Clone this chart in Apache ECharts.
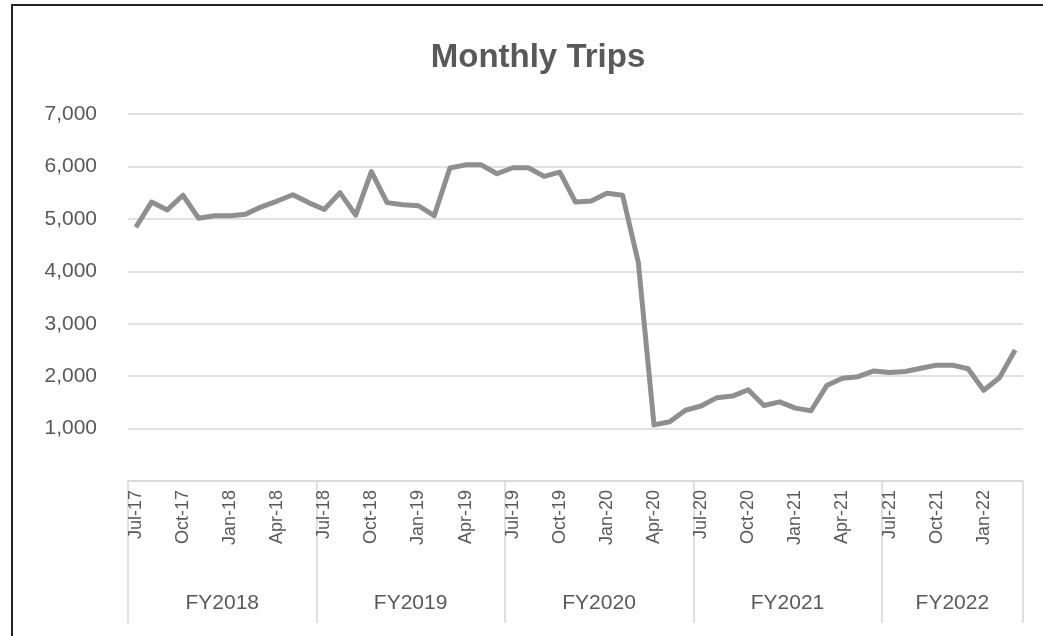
<!DOCTYPE html>
<html lang="en">
<head>
    <meta charset="UTF-8">
    <title>Monthly Trips</title>
    <style>
        html,body{margin:0;padding:0;background:#fff;}
        #chart{width:1043px;height:636px;}
        .frame{position:absolute;left:11px;top:4px;right:0;bottom:0;border-top:2px solid #222;border-left:2px solid #222;pointer-events:none;}
    </style>
</head>
<body>
    <div id="chart"></div>
    <div class="frame"></div>
<script src="https://cdn.jsdelivr.net/npm/echarts@6/dist/echarts.min.js"></script>
<script>
// month categories (Jul-17 .. Mar-22)
var months = [
    'Jul-17','Aug-17','Sep-17','Oct-17','Nov-17','Dec-17','Jan-18','Feb-18','Mar-18','Apr-18','May-18','Jun-18',
    'Jul-18','Aug-18','Sep-18','Oct-18','Nov-18','Dec-18','Jan-19','Feb-19','Mar-19','Apr-19','May-19','Jun-19',
    'Jul-19','Aug-19','Sep-19','Oct-19','Nov-19','Dec-19','Jan-20','Feb-20','Mar-20','Apr-20','May-20','Jun-20',
    'Jul-20','Aug-20','Sep-20','Oct-20','Nov-20','Dec-20','Jan-21','Feb-21','Mar-21','Apr-21','May-21','Jun-21',
    'Jul-21','Aug-21','Sep-21','Oct-21','Nov-21','Dec-21','Jan-22','Feb-22','Mar-22'
];
var trips = [
    4840, 5320, 5170, 5450, 5010, 5060, 5060, 5090, 5230, 5340, 5460, 5310,
    5180, 5500, 5070, 5900, 5310, 5270, 5250, 5060, 5970, 6030, 6030, 5860,
    5975, 5975, 5810, 5890, 5320, 5340, 5490, 5450, 4170, 1070, 1130, 1350,
    1430, 1590, 1620, 1740, 1440, 1510, 1390, 1340, 1820, 1960, 1990, 2100,
    2070, 2090, 2150, 2210, 2210, 2140, 1730, 1970, 2500
];
var fiscalYears = ['FY2018', 'FY2019', 'FY2020', 'FY2021', 'FY2022'];
var fyMonthCount = [12, 12, 12, 12, 9];

// group boundaries and centres on a 0..months.length scale
var fyEdges = [0];
var fyMids = [];
fyMonthCount.forEach(function (n, i) {
    fyMids.push(fyEdges[i] + n / 2);
    fyEdges.push(fyEdges[i] + n);
});

var txt = '#595959';
var font = '"Liberation Sans", Arial, sans-serif';

var myChart = echarts.init(document.getElementById('chart'));
var option = {
    animation: false,
    title: {
        text: 'Monthly Trips',
        left: 533,
        textAlign: 'center',
        top: 36,
        textStyle: {color: txt, fontSize: 33, fontWeight: 'bold', fontFamily: font}
    },
    grid: {left: 128, right: 20, top: 114, bottom: 155},
    xAxis: [{
        type: 'category',
        data: months,
        boundaryGap: true,
        axisLine: {lineStyle: {color: '#d9d9d9', width: 1.6}},
        axisTick: {show: false},
        axisLabel: {
            interval: 2,
            rotate: 90,
            margin: 9,
            color: txt,
            fontSize: 18,
            fontFamily: font
        },
        splitLine: {show: false}
    }, {
        type: 'value',
        position: 'bottom',
        min: 0,
        max: months.length,
        axisLine: {show: false},
        axisTick: {
            show: true,
            customValues: fyEdges,
            length: 142,
            lineStyle: {color: '#d9d9d9', width: 1.6}
        },
        axisLabel: {
            customValues: fyMids,
            margin: 112,
            color: txt,
            fontSize: 21,
            fontFamily: font,
            formatter: function (v) {
                var i = fyMids.indexOf(v);
                return i >= 0 ? fiscalYears[i] : '';
            }
        },
        splitLine: {show: false}
    }],
    yAxis: {
        type: 'value',
        min: 0,
        max: 7000,
        interval: 1000,
        axisLine: {show: false},
        axisTick: {show: false},
        axisLabel: {
            margin: 31,
            color: txt,
            fontSize: 21,
            fontFamily: font,
            formatter: function (v) {
                return v === 0 ? '' : v.toLocaleString('en-US');
            }
        },
        splitLine: {lineStyle: {color: '#d9d9d9', width: 1.6}}
    },
    series: [{
        name: 'Trips',
        type: 'line',
        xAxisIndex: 0,
        data: trips,
        symbol: 'none',
        lineStyle: {color: '#8f8f8f', width: 5, join: 'round'},
        itemStyle: {color: '#8f8f8f'}
    }]
};
myChart.setOption(option);
</script>
</body>
</html>
